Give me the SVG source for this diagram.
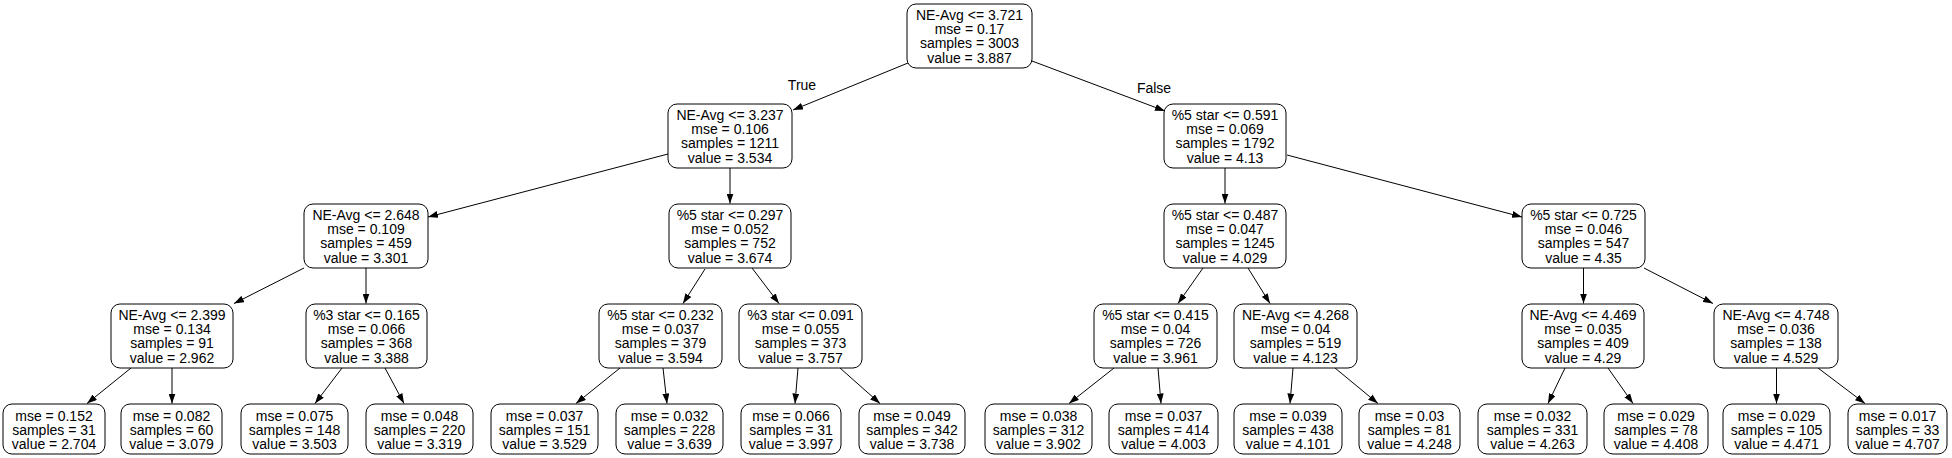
<svg xmlns="http://www.w3.org/2000/svg" width="1952" height="458" viewBox="0 0 1952 458">
<style>
rect{fill:#fff;stroke:#000;stroke-width:1}
text{font-family:"Liberation Sans",Arial,Helvetica,sans-serif;font-size:14px;fill:#000;text-anchor:middle}
.e line{stroke:#000;stroke-width:1;marker-end:url(#ah)}
</style>
<defs>
<marker id="ah" markerUnits="userSpaceOnUse" markerWidth="10" markerHeight="7" refX="10" refY="3.5" orient="auto"><path d="M0,0L10,3.5L0,7z" fill="#000"/></marker>
</defs>
<rect width="1952" height="458" style="fill:#fff;stroke:none"/>
<g class="e" id="connectors">
<line x1="908" y1="63" x2="793" y2="110"/>
<line x1="1032" y1="61" x2="1165" y2="111"/>
<line x1="730" y1="168" x2="730" y2="203.5"/>
<line x1="668" y1="154" x2="428" y2="217"/>
<line x1="1225" y1="168" x2="1225" y2="203.5"/>
<line x1="1287" y1="155" x2="1522" y2="217"/>
<line x1="304" y1="268" x2="234" y2="303.5"/>
<line x1="366" y1="268" x2="366" y2="303.5"/>
<line x1="705" y1="269" x2="683" y2="303.5"/>
<line x1="752" y1="268" x2="779" y2="303.5"/>
<line x1="1203" y1="268" x2="1178" y2="303.5"/>
<line x1="1248" y1="268" x2="1270" y2="303.5"/>
<line x1="1583.5" y1="268" x2="1583.5" y2="303.5"/>
<line x1="1644" y1="268" x2="1713" y2="303.5"/>
<line x1="131" y1="368" x2="87" y2="403.5"/>
<line x1="172" y1="368" x2="172" y2="403.5"/>
<line x1="342" y1="368" x2="315" y2="403.5"/>
<line x1="385" y1="368" x2="404" y2="403.5"/>
<line x1="620" y1="368" x2="576" y2="403.5"/>
<line x1="663" y1="368" x2="667" y2="403.5"/>
<line x1="798" y1="368" x2="795" y2="403.5"/>
<line x1="840" y1="368" x2="880" y2="403.5"/>
<line x1="1114" y1="368" x2="1069" y2="403.5"/>
<line x1="1158" y1="368" x2="1161" y2="403.5"/>
<line x1="1293" y1="368" x2="1290" y2="403.5"/>
<line x1="1335" y1="368" x2="1378" y2="403.5"/>
<line x1="1565" y1="368" x2="1548" y2="403.5"/>
<line x1="1608" y1="368" x2="1633" y2="403.5"/>
<line x1="1776.5" y1="368" x2="1776.5" y2="403.5"/>
<line x1="1818" y1="368" x2="1865" y2="403.5"/>
<text x="802" y="90">True</text>
<text x="1154" y="92.5">False</text>
</g>
<g id="n0"><rect x="907" y="4" width="125" height="64" rx="9"/><text x="969.5" y="20"><tspan x="969.5">NE-Avg &lt;= 3.721</tspan><tspan x="969.5" dy="14.2">mse = 0.17</tspan><tspan x="969.5" dy="14.2">samples = 3003</tspan><tspan x="969.5" dy="14.2">value = 3.887</tspan></text></g>
<g id="n1"><rect x="668" y="104" width="124" height="64" rx="9"/><text x="730" y="120"><tspan x="730">NE-Avg &lt;= 3.237</tspan><tspan x="730" dy="14.2">mse = 0.106</tspan><tspan x="730" dy="14.2">samples = 1211</tspan><tspan x="730" dy="14.2">value = 3.534</tspan></text></g>
<g id="n2"><rect x="1164" y="104" width="122" height="64" rx="9"/><text x="1225" y="120"><tspan x="1225">%5 star &lt;= 0.591</tspan><tspan x="1225" dy="14.2">mse = 0.069</tspan><tspan x="1225" dy="14.2">samples = 1792</tspan><tspan x="1225" dy="14.2">value = 4.13</tspan></text></g>
<g id="n3"><rect x="304" y="204" width="124" height="64" rx="9"/><text x="366" y="220"><tspan x="366">NE-Avg &lt;= 2.648</tspan><tspan x="366" dy="14.2">mse = 0.109</tspan><tspan x="366" dy="14.2">samples = 459</tspan><tspan x="366" dy="14.2">value = 3.301</tspan></text></g>
<g id="n4"><rect x="669" y="204" width="122" height="64" rx="9"/><text x="730" y="220"><tspan x="730">%5 star &lt;= 0.297</tspan><tspan x="730" dy="14.2">mse = 0.052</tspan><tspan x="730" dy="14.2">samples = 752</tspan><tspan x="730" dy="14.2">value = 3.674</tspan></text></g>
<g id="n5"><rect x="1164" y="204" width="122" height="64" rx="9"/><text x="1225" y="220"><tspan x="1225">%5 star &lt;= 0.487</tspan><tspan x="1225" dy="14.2">mse = 0.047</tspan><tspan x="1225" dy="14.2">samples = 1245</tspan><tspan x="1225" dy="14.2">value = 4.029</tspan></text></g>
<g id="n6"><rect x="1522" y="204" width="123" height="64" rx="9"/><text x="1583.5" y="220"><tspan x="1583.5">%5 star &lt;= 0.725</tspan><tspan x="1583.5" dy="14.2">mse = 0.046</tspan><tspan x="1583.5" dy="14.2">samples = 547</tspan><tspan x="1583.5" dy="14.2">value = 4.35</tspan></text></g>
<g id="n7"><rect x="111" y="304" width="122" height="64" rx="9"/><text x="172" y="320"><tspan x="172">NE-Avg &lt;= 2.399</tspan><tspan x="172" dy="14.2">mse = 0.134</tspan><tspan x="172" dy="14.2">samples = 91</tspan><tspan x="172" dy="14.2">value = 2.962</tspan></text></g>
<g id="n8"><rect x="306" y="304" width="121" height="64" rx="9"/><text x="366.5" y="320"><tspan x="366.5">%3 star &lt;= 0.165</tspan><tspan x="366.5" dy="14.2">mse = 0.066</tspan><tspan x="366.5" dy="14.2">samples = 368</tspan><tspan x="366.5" dy="14.2">value = 3.388</tspan></text></g>
<g id="n9"><rect x="599" y="304" width="123" height="64" rx="9"/><text x="660.5" y="320"><tspan x="660.5">%5 star &lt;= 0.232</tspan><tspan x="660.5" dy="14.2">mse = 0.037</tspan><tspan x="660.5" dy="14.2">samples = 379</tspan><tspan x="660.5" dy="14.2">value = 3.594</tspan></text></g>
<g id="n10"><rect x="739" y="304" width="123" height="64" rx="9"/><text x="800.5" y="320"><tspan x="800.5">%3 star &lt;= 0.091</tspan><tspan x="800.5" dy="14.2">mse = 0.055</tspan><tspan x="800.5" dy="14.2">samples = 373</tspan><tspan x="800.5" dy="14.2">value = 3.757</tspan></text></g>
<g id="n11"><rect x="1094" y="304" width="123" height="64" rx="9"/><text x="1155.5" y="320"><tspan x="1155.5">%5 star &lt;= 0.415</tspan><tspan x="1155.5" dy="14.2">mse = 0.04</tspan><tspan x="1155.5" dy="14.2">samples = 726</tspan><tspan x="1155.5" dy="14.2">value = 3.961</tspan></text></g>
<g id="n12"><rect x="1234" y="304" width="123" height="64" rx="9"/><text x="1295.5" y="320"><tspan x="1295.5">NE-Avg &lt;= 4.268</tspan><tspan x="1295.5" dy="14.2">mse = 0.04</tspan><tspan x="1295.5" dy="14.2">samples = 519</tspan><tspan x="1295.5" dy="14.2">value = 4.123</tspan></text></g>
<g id="n13"><rect x="1522" y="304" width="122" height="64" rx="9"/><text x="1583" y="320"><tspan x="1583">NE-Avg &lt;= 4.469</tspan><tspan x="1583" dy="14.2">mse = 0.035</tspan><tspan x="1583" dy="14.2">samples = 409</tspan><tspan x="1583" dy="14.2">value = 4.29</tspan></text></g>
<g id="n14"><rect x="1714" y="304" width="124" height="64" rx="9"/><text x="1776" y="320"><tspan x="1776">NE-Avg &lt;= 4.748</tspan><tspan x="1776" dy="14.2">mse = 0.036</tspan><tspan x="1776" dy="14.2">samples = 138</tspan><tspan x="1776" dy="14.2">value = 4.529</tspan></text></g>
<g id="l1"><rect x="3" y="404" width="102" height="50" rx="9"/><text x="54" y="420.5"><tspan x="54">mse = 0.152</tspan><tspan x="54" dy="14.2">samples = 31</tspan><tspan x="54" dy="14.2">value = 2.704</tspan></text></g>
<g id="l2"><rect x="121" y="404" width="101" height="50" rx="9"/><text x="171.5" y="420.5"><tspan x="171.5">mse = 0.082</tspan><tspan x="171.5" dy="14.2">samples = 60</tspan><tspan x="171.5" dy="14.2">value = 3.079</tspan></text></g>
<g id="l3"><rect x="241" y="404" width="107" height="50" rx="9"/><text x="294.5" y="420.5"><tspan x="294.5">mse = 0.075</tspan><tspan x="294.5" dy="14.2">samples = 148</tspan><tspan x="294.5" dy="14.2">value = 3.503</tspan></text></g>
<g id="l4"><rect x="366" y="404" width="107" height="50" rx="9"/><text x="419.5" y="420.5"><tspan x="419.5">mse = 0.048</tspan><tspan x="419.5" dy="14.2">samples = 220</tspan><tspan x="419.5" dy="14.2">value = 3.319</tspan></text></g>
<g id="l5"><rect x="491" y="404" width="107" height="50" rx="9"/><text x="544.5" y="420.5"><tspan x="544.5">mse = 0.037</tspan><tspan x="544.5" dy="14.2">samples = 151</tspan><tspan x="544.5" dy="14.2">value = 3.529</tspan></text></g>
<g id="l6"><rect x="616" y="404" width="107" height="50" rx="9"/><text x="669.5" y="420.5"><tspan x="669.5">mse = 0.032</tspan><tspan x="669.5" dy="14.2">samples = 228</tspan><tspan x="669.5" dy="14.2">value = 3.639</tspan></text></g>
<g id="l7"><rect x="741" y="404" width="100" height="50" rx="9"/><text x="791" y="420.5"><tspan x="791">mse = 0.066</tspan><tspan x="791" dy="14.2">samples = 31</tspan><tspan x="791" dy="14.2">value = 3.997</tspan></text></g>
<g id="l8"><rect x="859" y="404" width="106" height="50" rx="9"/><text x="912" y="420.5"><tspan x="912">mse = 0.049</tspan><tspan x="912" dy="14.2">samples = 342</tspan><tspan x="912" dy="14.2">value = 3.738</tspan></text></g>
<g id="l9"><rect x="985" y="404" width="107" height="50" rx="9"/><text x="1038.5" y="420.5"><tspan x="1038.5">mse = 0.038</tspan><tspan x="1038.5" dy="14.2">samples = 312</tspan><tspan x="1038.5" dy="14.2">value = 3.902</tspan></text></g>
<g id="l10"><rect x="1109" y="404" width="109" height="50" rx="9"/><text x="1163.5" y="420.5"><tspan x="1163.5">mse = 0.037</tspan><tspan x="1163.5" dy="14.2">samples = 414</tspan><tspan x="1163.5" dy="14.2">value = 4.003</tspan></text></g>
<g id="l11"><rect x="1234" y="404" width="108" height="50" rx="9"/><text x="1288" y="420.5"><tspan x="1288">mse = 0.039</tspan><tspan x="1288" dy="14.2">samples = 438</tspan><tspan x="1288" dy="14.2">value = 4.101</tspan></text></g>
<g id="l12"><rect x="1359" y="404" width="101" height="50" rx="9"/><text x="1409.5" y="420.5"><tspan x="1409.5">mse = 0.03</tspan><tspan x="1409.5" dy="14.2">samples = 81</tspan><tspan x="1409.5" dy="14.2">value = 4.248</tspan></text></g>
<g id="l13"><rect x="1478" y="404" width="109" height="50" rx="9"/><text x="1532.5" y="420.5"><tspan x="1532.5">mse = 0.032</tspan><tspan x="1532.5" dy="14.2">samples = 331</tspan><tspan x="1532.5" dy="14.2">value = 4.263</tspan></text></g>
<g id="l14"><rect x="1604" y="404" width="104" height="50" rx="9"/><text x="1656" y="420.5"><tspan x="1656">mse = 0.029</tspan><tspan x="1656" dy="14.2">samples = 78</tspan><tspan x="1656" dy="14.2">value = 4.408</tspan></text></g>
<g id="l15"><rect x="1723" y="404" width="107" height="50" rx="9"/><text x="1776.5" y="420.5"><tspan x="1776.5">mse = 0.029</tspan><tspan x="1776.5" dy="14.2">samples = 105</tspan><tspan x="1776.5" dy="14.2">value = 4.471</tspan></text></g>
<g id="l16"><rect x="1848" y="404" width="99" height="50" rx="9"/><text x="1897.5" y="420.5"><tspan x="1897.5">mse = 0.017</tspan><tspan x="1897.5" dy="14.2">samples = 33</tspan><tspan x="1897.5" dy="14.2">value = 4.707</tspan></text></g>
</svg>
